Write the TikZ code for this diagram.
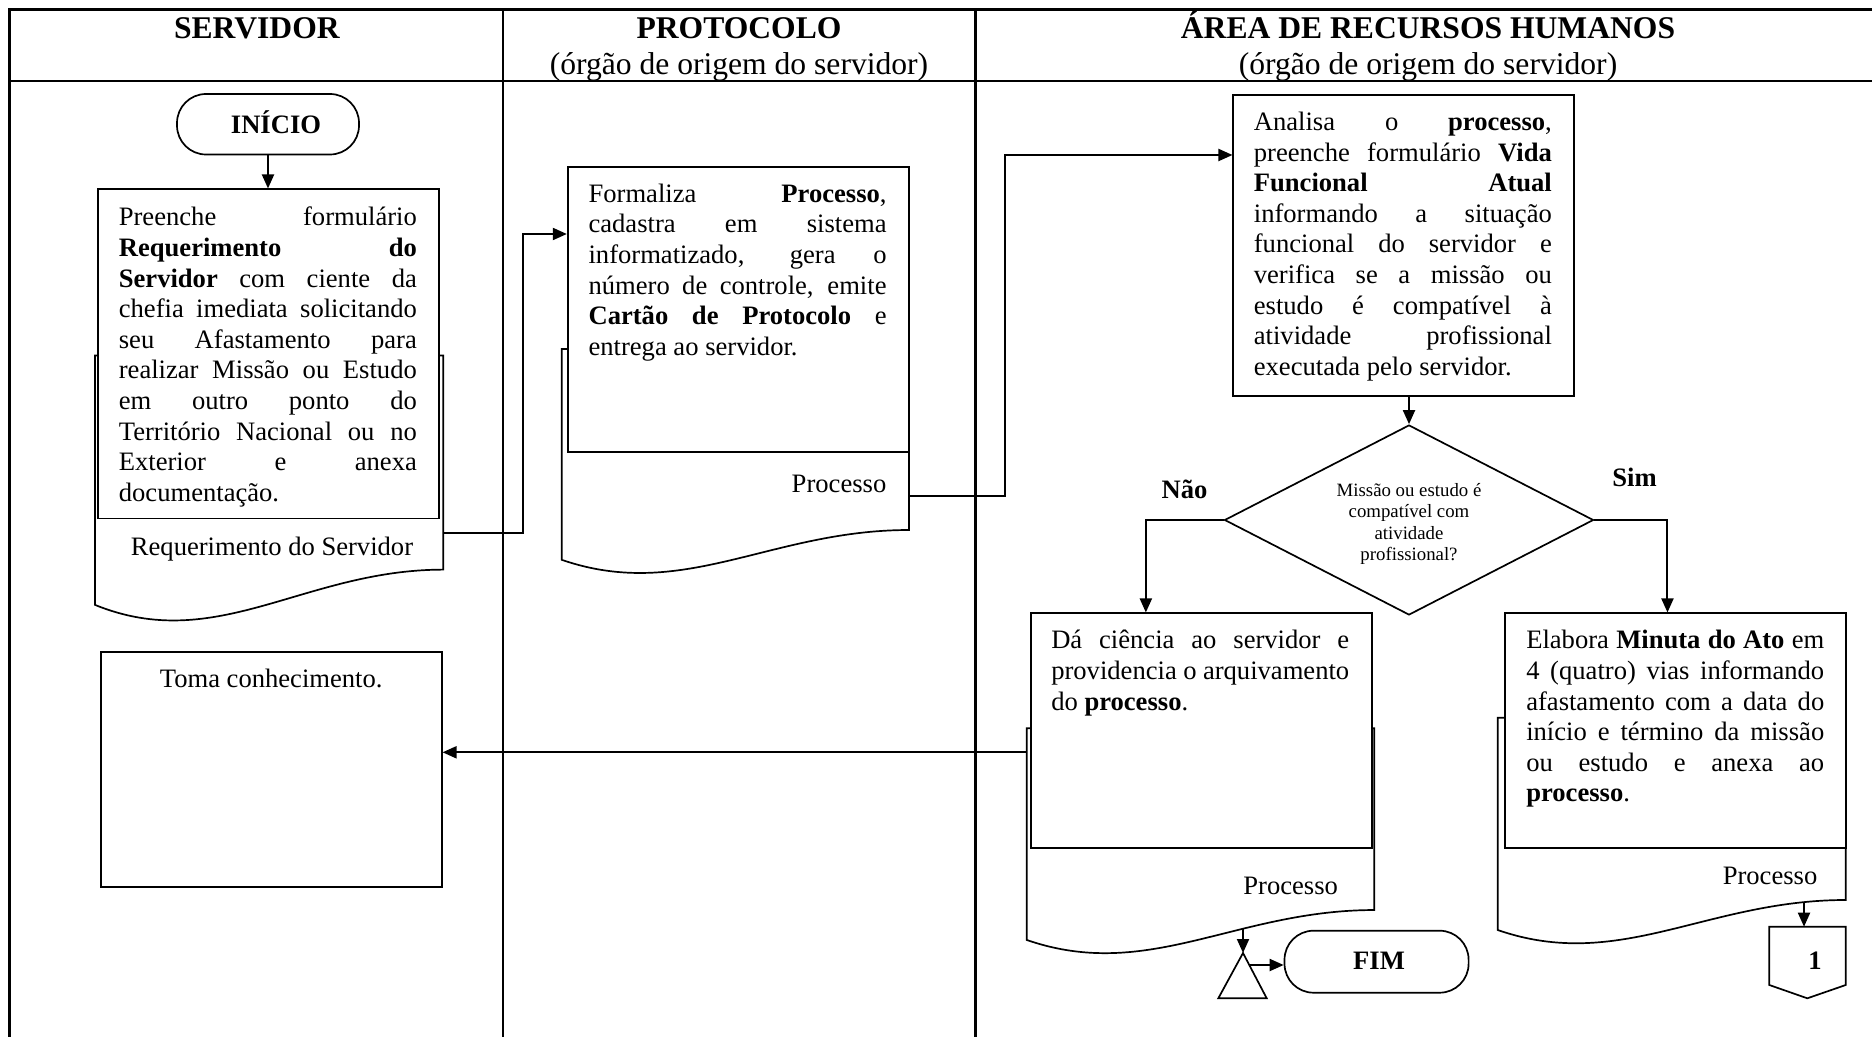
\documentclass[tikz,border=0pt]{standalone}
\usepackage{fontspec}
\setmainfont{Liberation Serif}
\usetikzlibrary{arrows.meta,shapes.geometric,fit,calc}

\tikzset{
  frame/.style={line width=1.1pt},
  box/.style={draw, line width=0.85pt, fill=white, inner sep=0pt},
  term/.style={box, rounded corners=14.5pt},
  doc/.style={draw, line width=0.85pt, fill=white},
  outline/.style={draw, line width=0.85pt, fill=white},
  arr/.style={line width=1pt, -{Triangle[length=7pt,width=6pt]}},
  body/.style={inner sep=0pt, align=left, anchor=north west, font=\fontsize{13.3pt}{15.3pt}\selectfont},
  lbl/.style={inner sep=0pt, anchor=base, font=\fontsize{13.3pt}{15.3pt}\selectfont},
  head/.style={inner sep=0pt, anchor=base, font=\fontsize{15.8pt}{18pt}\selectfont},
  small/.style={inner sep=0pt, align=center, anchor=north, font=\fontsize{9.4pt}{10.75pt}\selectfont},
}
% one justified line of a text block
\newcommand\jline[1]{\makebox[149pt][s]{#1}}
\newcommand\fstrut{\rule{0pt}{11pt}}
% document symbol: left, right, top, height
\newcommand\docpath[4]{%
  \filldraw[doc] (#1,#3) -- (#2,#3) -- (#2,{#3+0.802*#4})
    .. controls ({#1+0.6*(#2-#1)},{#3+0.802*#4}) and ({#1+0.35*(#2-#1)},{#3+1.12*#4})
    .. (#1,{#3+0.934*#4}) -- cycle;}

\begin{document}
\begin{tikzpicture}[x=0.5pt,y=-0.5pt]
\useasboundingbox (0,0) rectangle (1872,1037);

% swimlane frame
\draw[frame] (9.5,1037) -- (9.5,9.5) -- (1872,9.5);
\draw[frame] (9.5,81) -- (1872,81);
\draw[frame] (502.7,9.5) -- (502.7,1037);
\draw[frame] (975.5,9.5) -- (975.5,1037);

% lane headings
\node[head] (hS) at (257,38.5) {\textbf{SERVIDOR}};
\node[head] (hP) at (739,38.5) {\textbf{PROTOCOLO}};
\node[head] (hPs) at (739,75) {(órgão de origem do servidor)};
\node[head] (hR) at (1428,38.5) {\textbf{ÁREA DE RECURSOS HUMANOS}};
\node[head] (hRs) at (1428,75) {(órgão de origem do servidor)};

% ---------- SERVIDOR ----------
\node[term, fit={(177,94) (359,154.5)}] (ini) {};
\node[lbl] (iniT) at (276,133.5) {\textbf{INÍCIO}};

\docpath{95}{443.3}{355.5}{267}
\node[box, fit={(98.3,189.3) (439,518.6)}] (A) {};
\node[body] (At) at ($(A.north west)+(21,15)$) {\fstrut\jline{Preenche formulário}\\
\jline{\textbf{Requerimento} \textbf{do}}\\
\jline{\textbf{Servidor} com ciente da}\\
\jline{chefia imediata solicitando}\\
\jline{seu Afastamento para}\\
\jline{realizar Missão ou Estudo}\\
\jline{em outro ponto do}\\
\jline{Território Nacional ou no}\\
\jline{Exterior e anexa}\\
documentação.};
\node[lbl] (dAt) at (272,555) {Requerimento do Servidor};
\coordinate (dAo) at (443.3,533);

\draw[arr] (ini.south) -- (ini.south |- A.north);

\node[box, fit={(100.7,651.7) (441.7,886.7)}] (T) {};
\node[lbl] (Tt) at (271.2,687) {Toma conhecimento.};

% ---------- PROTOCOLO ----------
\docpath{561.7}{909}{349}{225.7}
\node[box, fit={(567.7,166.7) (909,451.7)}] (B) {};
\node[body] (Bt) at ($(B.north west)+(21.3,14)$) {\fstrut\jline{Formaliza \textbf{Processo},}\\
\jline{cadastra em sistema}\\
\jline{informatizado, gera o}\\
\jline{número de controle, emite}\\
\jline{\textbf{Cartão de Protocolo} e}\\
entrega ao servidor.};
\node[lbl, anchor=base east] (dBt) at (886.7,492) {Processo};
\coordinate (dBo) at (909,495.7);

\coordinate (jA) at (523,234);
\draw[arr] (dAo) -| (jA) -- (jA -| B.west);

% ---------- AREA DE RECURSOS HUMANOS ----------
\node[box, fit={(1233.3,95) (1574,396)}] (C) {};
\node[body] (Ct) at ($(C.north west)+(21,14)$) {\fstrut\jline{Analisa o \textbf{processo},}\\
\jline{preenche formulário \textbf{Vida}}\\
\jline{\textbf{Funcional} \textbf{Atual}}\\
\jline{informando a situação}\\
\jline{funcional do servidor e}\\
\jline{verifica se a missão ou}\\
\jline{estudo é compatível à}\\
\jline{atividade profissional}\\
executada pelo servidor.};

\coordinate (jB) at (1005,155);
\draw[arr] (dBo) -| (jB) -- (jB -| C.west);

\node[draw, diamond, line width=0.85pt, fill=white, inner sep=0pt,
      minimum width=184.5pt, minimum height=95pt] (Q) at (1409,520) {};
\node[small] (Qt) at (1409,479.7) {\rule{0pt}{8pt}Missão ou estudo é\\compatível com\\atividade\\profissional?};
\draw[arr] (C.south -| Q.north) -- (Q.north);

\node[lbl] (no) at (1184.5,498) {\textbf{Não}};
\node[lbl] (yes) at (1634.6,486) {\textbf{Sim}};

% branch "Não"
\docpath{1026.7}{1374.3}{728.3}{226.6}
\node[box, fit={(1031,613.3) (1371.7,848.3)}] (D) {};
\node[body] (Dt) at ($(D.north west)+(20.7,14)$) {\fstrut\jline{Dá ciência ao servidor e}\\
\jline{providencia o arquivamento}\\
do \textbf{processo}.};
\node[lbl, anchor=base east] (dDt) at (1338.3,894) {Processo};
\coordinate (dDo) at (1026.7,752.3);
\coordinate (dDb) at (1243,928.5);

\coordinate (nD) at ($(D.north west)+(115.7,0)$);
\draw[arr] (Q.west) -| (nD);
\draw[arr] (dDo) -- (dDo -| T.east);

% archive symbol and end
\coordinate (tA) at (1243,953);
\coordinate (tR) at (1266.7,998.3);
\coordinate (tL) at (1218.3,998.3);
\draw[outline] (tA) -- (tR) -- (tL) -- cycle;
\draw[arr] (dDb) -- (tA);
\node[term, fit={(1284.5,930.7) (1468.6,992.7)}] (F) {};
\node[lbl] (Ft) at (1379,969) {\textbf{FIM}};
\coordinate (tS) at (1250,965);
\draw[arr] (tS) -- (tS -| F.west);

% branch "Sim"
\docpath{1497.7}{1845.7}{717.7}{227.3}
\node[box, fit={(1505,613.3) (1845.7,848.3)}] (E) {};
\node[body] (Et) at ($(E.north west)+(21.7,14)$) {\fstrut\jline{Elabora \textbf{Minuta do Ato} em}\\
\jline{4 (quatro) vias informando}\\
\jline{afastamento com a data do}\\
\jline{início e término da missão}\\
\jline{ou estudo e anexa ao}\\
\textbf{processo}.};
\node[lbl, anchor=base east] (dEt) at (1817.7,884) {Processo};
\coordinate (dEb) at (1804,902);

\coordinate (nE) at ($(E.north west)+(163.3,0)$);
\draw[arr] (Q.east) -| (nE);

% off-page connector
\coordinate (oc) at (1807.5,926.7);
\draw[outline] (1769.3,926.7) -- (1845.7,926.7) -- (1845.7,985) -- (1807.3,998.3) -- (1769.3,985) -- cycle;
\node[lbl] (one) at (1815,969.5) {\textbf{1}};
\draw[arr] (dEb) -- (dEb |- oc);

\end{tikzpicture}
\end{document}
